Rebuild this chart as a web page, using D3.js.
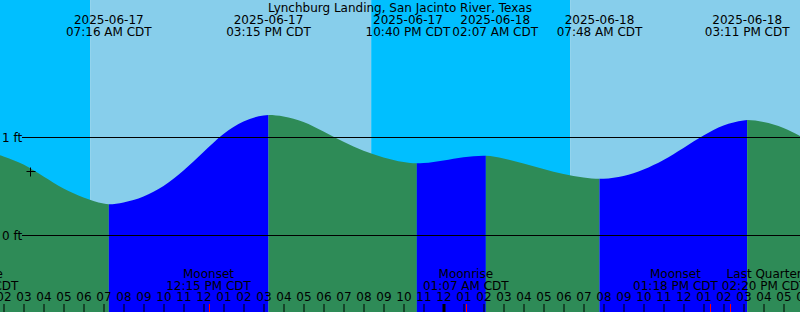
<!DOCTYPE html>
<html>
<head>
<meta charset="utf-8">
<script src="https://cdn.jsdelivr.net/npm/d3@7"></script>
<style>
  body { margin: 0; background: #fff; }
  svg { display: block; font-family: "DejaVu Sans", sans-serif; font-size: 12px; }
</style>
</head>
<body>
<svg id="chart" width="800" height="312"></svg>
<script>
// station and window (times are local CDT wall clock)
const title = "Lynchburg Landing, San Jacinto River, Texas";
const windowStart = "2025-06-17 01:49:30";
const windowEnd = "2025-06-18 17:49:30";

// water level, ft
const sampleTimes = [
  "2025-06-17 01:00", "2025-06-17 02:00", "2025-06-17 03:00", "2025-06-17 04:00",
  "2025-06-17 05:00", "2025-06-17 06:00", "2025-06-17 07:00", "2025-06-17 07:16",
  "2025-06-17 08:00", "2025-06-17 09:00", "2025-06-17 10:00", "2025-06-17 11:00",
  "2025-06-17 12:00", "2025-06-17 13:00", "2025-06-17 14:00", "2025-06-17 15:00",
  "2025-06-17 15:15", "2025-06-17 16:00", "2025-06-17 17:00", "2025-06-17 18:00",
  "2025-06-17 19:00", "2025-06-17 20:00", "2025-06-17 21:00", "2025-06-17 22:00",
  "2025-06-17 22:40", "2025-06-17 23:00", "2025-06-18 00:00", "2025-06-18 01:00",
  "2025-06-18 02:00", "2025-06-18 02:07", "2025-06-18 03:00", "2025-06-18 04:00",
  "2025-06-18 05:00", "2025-06-18 06:00", "2025-06-18 07:00", "2025-06-18 07:48",
  "2025-06-18 08:00", "2025-06-18 09:00", "2025-06-18 10:00", "2025-06-18 11:00",
  "2025-06-18 12:00", "2025-06-18 13:00", "2025-06-18 14:00", "2025-06-18 15:00",
  "2025-06-18 15:11", "2025-06-18 16:00", "2025-06-18 17:00", "2025-06-18 18:00"
];
const sampleLevels = [
  0.867, 0.801, 0.719, 0.597,
  0.474, 0.383, 0.321, 0.313,
  0.332, 0.393, 0.500, 0.658,
  0.847, 1.031, 1.158, 1.219,
  1.224, 1.209, 1.153, 1.056,
  0.951, 0.859, 0.791, 0.745,
  0.732, 0.734, 0.760, 0.794,
  0.808, 0.809, 0.781, 0.730,
  0.673, 0.622, 0.587, 0.573,
  0.574, 0.602, 0.668, 0.765,
  0.888, 1.015, 1.117, 1.168,
  1.173, 1.153, 1.092, 0.990
];

// high / low tides
const tideTimes = [
  "2025-06-17 07:16", "2025-06-17 15:15", "2025-06-17 22:40",
  "2025-06-18 02:07", "2025-06-18 07:48", "2025-06-18 15:11"
];
const tideKinds = ["low", "high", "low", "high", "low", "high"];

// sun
const sunTimes = ["2025-06-17 06:20", "2025-06-17 20:23", "2025-06-18 06:20"];
const sunKinds = ["rise", "set", "rise"];

// moon
const moonNames = ["Moonrise", "Moonset", "Moonrise", "Moonset", "Last Quarter"];
const moonTimes = [
  "2025-06-17 00:36", "2025-06-17 12:15", "2025-06-18 01:07",
  "2025-06-18 13:18", "2025-06-18 14:20"
];

// reference lines
const gridLevels = [0, 1];
const gridLabels = ["0 ft", "1 ft"];

// the little cross
const markTime = "2025-06-17 03:19";
const markLevel = 0.65;

const W = 800, H = 312;
const parse = d3.utcParse("%Y-%m-%d %H:%M");
const parseS = d3.utcParse("%Y-%m-%d %H:%M:%S");
const fmtDate = d3.utcFormat("%Y-%m-%d");
const fmtTime = d3.utcFormat("%I:%M %p CDT");

const t0 = parseS(windowStart), t1 = parseS(windowEnd);
const x = d3.scaleUtc().domain([t0, t1]).range([0, W]);
const y = d3.scaleLinear().domain([0, 1]).range([235, 137]);

const svg = d3.select("#chart");

// sky: night / day bands
const sunDates = sunTimes.map(parse);
const skyBounds = [t0, ...sunDates, t1];
const skyBands = d3.range(skyBounds.length - 1).map(i => {
  let day;
  if (i === 0) day = sunKinds[0] === "set";
  else day = sunKinds[i - 1] === "rise";
  return { a: skyBounds[i], b: skyBounds[i + 1], day };
});
svg.append("g")
  .selectAll("rect")
  .data(skyBands)
  .enter().append("rect")
  .attr("x", d => x(d.a))
  .attr("width", d => x(d.b) - x(d.a))
  .attr("y", 0)
  .attr("height", H)
  .attr("fill", d => d.day ? "#87ceeb" : "#00bfff");

// water, coloured by rising / falling
const samples = sampleTimes.map((t, i) => ({ t: parse(t), v: sampleLevels[i] }));
const area = d3.area()
  .x(d => x(d.t))
  .y0(H)
  .y1(d => y(d.v))
  .curve(d3.curveMonotoneX);

const tideDates = tideTimes.map(parse);
const waterBounds = [d3.utcHour.offset(t0, -2), ...tideDates, d3.utcHour.offset(t1, 2)];
const segs = d3.range(waterBounds.length - 1).map(i => {
  const rising = i < tideKinds.length ? tideKinds[i] === "high" : tideKinds[tideKinds.length - 1] === "low";
  return { a: waterBounds[i], b: waterBounds[i + 1], rising, id: "seg" + i };
});
const defs = svg.append("defs");
defs.selectAll("clipPath")
  .data(segs)
  .enter().append("clipPath")
  .attr("id", d => d.id)
  .append("rect")
  .attr("x", d => x(d.a))
  .attr("width", d => x(d.b) - x(d.a))
  .attr("y", 0)
  .attr("height", H);

svg.append("g")
  .selectAll("path")
  .data(segs)
  .enter().append("path")
  .attr("d", area(samples))
  .attr("clip-path", d => `url(#${d.id})`)
  .attr("fill", d => d.rising ? "#0000ff" : "#2e8b57");

// level lines
const grid = svg.append("g");
grid.selectAll("line")
  .data(gridLevels)
  .enter().append("line")
  .attr("x1", 22).attr("x2", W)
  .attr("y1", d => y(d) + 0.5).attr("y2", d => y(d) + 0.5)
  .attr("stroke", "#000");
grid.selectAll("text")
  .data(gridLevels)
  .enter().append("text")
  .attr("x", 2)
  .attr("y", d => y(d) + 5)
  .text((d, i) => gridLabels[i]);

// cross
const mx = Math.round(x(parse(markTime))) + 0.5, my = Math.round(y(markLevel)) + 0.5;
svg.append("path")
  .attr("d", `M${mx - 4},${my}H${mx + 5}M${mx},${my - 4}V${my + 5}`)
  .attr("stroke", "#000")
  .attr("fill", "none");

// title
svg.append("text")
  .attr("x", W / 2)
  .attr("y", 12)
  .attr("text-anchor", "middle")
  .text(title);

// two-line labels; neighbours that would collide are pushed apart
function labelRow(dates, firstLine, secondLine, y1, y2, gap) {
  const g = svg.append("g").attr("text-anchor", "middle")
    .selectAll("g")
    .data(dates)
    .enter().append("g");
  const a = g.append("text").attr("y", y1).text(firstLine);
  const b = g.append("text").attr("y", y2).text(secondLine);
  const items = dates.map((d, i) => ({
    cx: x(d),
    w: Math.max(a.nodes()[i].getComputedTextLength(), b.nodes()[i].getComputedTextLength())
  }));
  for (let i = 0; i + 1 < items.length; i++) {
    const l = items[i], r = items[i + 1];
    if (l.cx + l.w / 2 + gap > r.cx - r.w / 2) {
      const mid = (l.cx + r.cx) / 2;
      l.cx = mid - gap / 2 - l.w / 2;
      r.cx = mid + gap / 2 + r.w / 2;
    }
  }
  a.attr("x", (d, i) => items[i].cx);
  b.attr("x", (d, i) => items[i].cx);
}

// tide labels
labelRow(tideDates, d => fmtDate(d), d => fmtTime(d), 24, 36, 2);

// hour axis
const hourTicks = d3.utcHour.range(d3.utcHour.offset(t0, -1), d3.utcHour.offset(t1, 2));
const axis = svg.append("g")
  .attr("transform", "translate(0,304)")
  .call(d3.axisBottom(x)
    .tickValues(hourTicks)
    .tickFormat(d3.utcFormat("%I"))
    .tickSize(8));
axis.select(".domain").remove();
axis.attr("font-family", null).attr("font-size", null);
axis.selectAll(".tick text")
  .attr("y", -3)
  .attr("dy", 0)
  .attr("fill", "#000");
axis.selectAll(".tick line")
  .attr("stroke", "#000")
  .attr("stroke-width", d => d.getUTCHours() === 0 ? 3 : 1);

// moon events
const moonDates = moonTimes.map(parse);
labelRow(moonDates, (d, i) => moonNames[i], d => fmtTime(d), 278, 290, 4);
svg.append("g")
  .selectAll("line")
  .data(moonDates)
  .enter().append("line")
  .attr("x1", d => Math.round(x(d)) + 0.5).attr("x2", d => Math.round(x(d)) + 0.5)
  .attr("y1", 304).attr("y2", H)
  .attr("stroke", "#ff0000");
</script>
</body>
</html>
